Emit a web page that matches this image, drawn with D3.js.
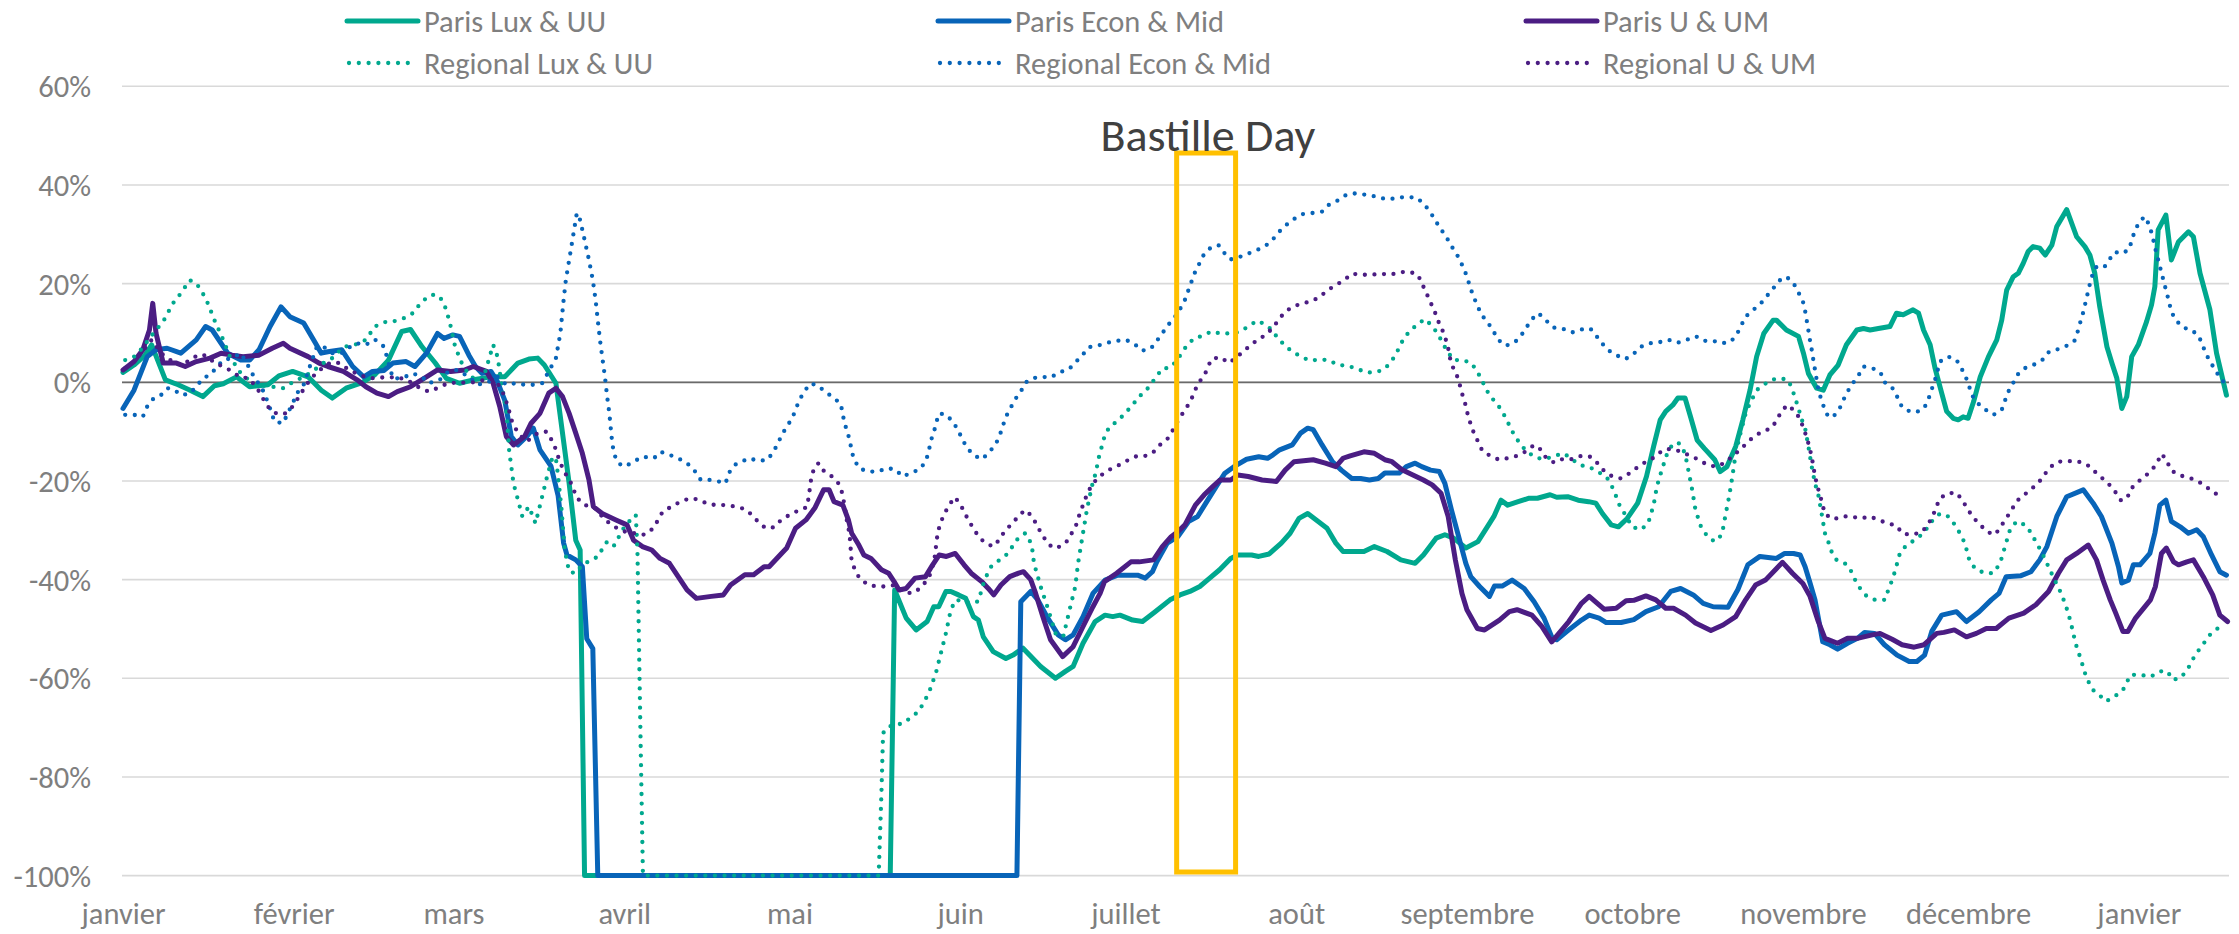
<!DOCTYPE html>
<html><head><meta charset="utf-8">
<script src="https://cdn.jsdelivr.net/npm/d3@7"></script>
<style>
html,body{margin:0;padding:0;background:#fff;}
svg{display:block;font-family:Carlito, Calibri, Lato, sans-serif;}
</style></head><body>
<svg id="chart" width="2239" height="934"></svg>
<script>
// ---------- data (x = days since 1 Jan 2020, y = % change) ----------
const monthLabels = ["janvier","février","mars","avril","mai","juin","juillet","août","septembre","octobre","novembre","décembre","janvier"];
const yTicks = [60,40,20,0,-20,-40,-60,-80,-100];
const seriesNames = ["Paris Lux & UU","Paris Econ & Mid","Paris U & UM","Regional Lux & UU","Regional Econ & Mid","Regional U & UM"];
const annotationText = "Bastille Day";
const annotationDays = [191.3, 202];

const parisLux = [[0,2],[2,3.5],[4,5.5],[5.2,7.6],[7.7,0.5],[10,-0.5],[12,-1.5],[14.5,-2.9],[16.6,-0.7],[18.2,-0.3],[20.6,1.1],[23,-0.9],[26.3,-0.5],[28.3,1.3],[30.8,2.2],[33.6,1.1],[36,-1.6],[38,-3.2],[40.5,-1.2],[43.3,-0.1],[45.7,1.5],[48.2,4.5],[50.6,10.3],[52.2,10.7],[54.3,7.2],[56.7,3.9],[58.7,0.8],[61.1,-0.2],[63.6,0.5],[66.8,1.1],[69.3,1.1],[71.7,3.9],[73.7,4.7],[75.3,4.9],[76.5,3.5],[78.6,-0.2],[80.2,-13.7],[81,-20.5],[82.2,-32],[83,-34],[83.8,-100],[139.3,-100],[140.1,-42.1],[142.2,-47.8],[144,-50.2],[146,-48.5],[147.2,-45.5],[148.1,-45.5],[149.4,-42.4],[150.3,-42.4],[151.7,-43.1],[153,-43.8],[154.4,-47.5],[155.3,-48.2],[156.2,-51.6],[158,-54.6],[160.3,-56],[161.6,-55.3],[163.4,-53.9],[165.2,-56],[166.6,-57.6],[169.3,-60],[171.1,-58.6],[172.5,-57.6],[174.3,-52.9],[176.5,-48.5],[178.3,-47.2],[179.7,-47.5],[181,-47.2],[183.3,-48.2],[185.1,-48.5],[187.4,-46.5],[190.1,-44.1],[191.9,-43.1],[193.7,-42.4],[195.5,-41.4],[197.3,-39.7],[199.1,-38],[201.1,-35.7],[202.4,-35],[204.9,-35],[206.2,-35.3],[208.1,-34.8],[210.3,-32.6],[211.9,-30.6],[213.5,-27.6],[215.1,-26.6],[217,-28.2],[218.6,-29.6],[220.2,-32.6],[221.5,-34.3],[223.4,-34.3],[225.3,-34.3],[227.2,-33.3],[229.5,-34.3],[232,-36],[234.6,-36.7],[236.1,-35],[238.4,-31.6],[240,-30.9],[241.6,-31.6],[243.8,-33.6],[246,-32.3],[247.7,-29.3],[248.9,-27.2],[250.2,-23.9],[251.4,-24.9],[253.3,-24.2],[255.3,-23.5],[256.8,-23.5],[259.1,-22.8],[260.3,-23.3],[262.3,-23.2],[264.2,-23.9],[266.1,-24.2],[267.4,-24.5],[268.6,-26.6],[270.2,-28.9],[271.5,-29.3],[273.1,-27.6],[275,-24.5],[276.6,-19.1],[277.9,-13],[279.1,-7.6],[280.1,-5.9],[281.4,-4.6],[282.3,-3.2],[283.6,-3.2],[284.6,-7],[285.8,-11.7],[287.1,-13.4],[289,-15.7],[290,-18.1],[291.2,-17.1],[292.8,-13],[294.1,-7.6],[295.4,-1.6],[296.6,5.2],[297.9,9.9],[299.6,12.6],[300.2,12.6],[302,10.6],[304.2,9.3],[305.1,5.9],[306,1.8],[307.5,-1.2],[308.7,-1.6],[309.9,1.5],[311.4,3.5],[312.9,7.6],[314.8,10.6],[316,10.9],[317.2,10.6],[318.7,10.9],[320.8,11.3],[322,14],[323.2,13.7],[325,14.7],[326,14],[326.9,10.6],[328.1,7.6],[329,2.8],[330.2,-2.2],[331.1,-5.9],[332.3,-7.3],[333.2,-7.6],[334.1,-7],[335,-7.3],[336,-3.9],[337.2,1.1],[338.7,5.2],[340.2,8.6],[341.1,12.6],[342,18.7],[343.2,21.4],[344.1,22.1],[345,24.1],[345.9,26.5],[346.8,27.5],[348,27.2],[349,25.8],[350.2,27.8],[351.1,31.6],[352.9,35],[354.7,29.5],[356.2,27.5],[357.1,25.8],[358,22.1],[358.9,15.3],[360.2,7.2],[361.1,3.9],[362,0.8],[362.9,-5.3],[363.8,-2.9],[364.7,5.2],[365.9,7.6],[367.4,12.3],[368.3,15.7],[368.9,19.4],[369.5,30.9],[370.9,33.9],[371.9,24.8],[373.2,28.5],[375,30.5],[375.9,29.5],[377.1,22.1],[378.9,14.7],[380.1,5.9],[381.9,-2.6]];

const parisEcon = [[0,-5.3],[2,-1.6],[4.4,5.2],[6,6.6],[8,6.9],[10.5,5.9],[13.3,8.6],[15,11.3],[16.2,10.6],[19,5.9],[21.4,4.5],[23,4.5],[24.7,6.6],[26.7,11.3],[28.7,15.3],[30.3,13.3],[32.8,12],[34.8,8.2],[36,5.9],[37.2,6.2],[39.7,6.6],[41.7,3.2],[43.7,1.1],[45.3,2.2],[47.4,2.4],[49,3.9],[51.4,4.2],[53,3.2],[55.1,5.9],[57.1,9.9],[58.3,8.9],[59.9,9.6],[61.1,9.3],[62.8,5.5],[64,3.2],[65.2,1.8],[66.8,2.2],[68,0.1],[69.3,-3.6],[70.5,-11],[71.7,-12.7],[73.3,-11],[74.5,-9.3],[75.7,-13.7],[77.7,-17],[79,-23],[80,-32.6],[80.6,-35],[82.2,-36],[83.4,-37.4],[84.2,-52],[85.3,-54],[86.2,-100],[162.3,-100],[163,-44.5],[164.8,-42.4],[166.1,-44.1],[167.9,-47.8],[169.8,-51.2],[171.1,-52.2],[172.5,-51.2],[174.3,-47.5],[176.1,-42.8],[178.3,-40.1],[180.6,-39.1],[184.2,-39.1],[185.6,-39.7],[186.9,-38.4],[187.7,-36.4],[189.6,-32.6],[191.5,-31.3],[193.5,-28.2],[195.1,-27.2],[196.6,-24.5],[198.5,-21.1],[200,-18.5],[201.7,-17.1],[204,-15.6],[206.2,-15.1],[207.8,-15.4],[208.8,-14.7],[210,-13.7],[212.3,-12.7],[213.8,-10.3],[215.1,-9.3],[216.1,-9.6],[217.7,-12.7],[219.6,-16.1],[221.2,-17.8],[223.1,-19.5],[224.7,-19.5],[226.3,-19.8],[227.9,-19.5],[229.1,-18.4],[231.7,-18.4],[233,-17.1],[234.6,-16.4],[235.8,-17.1],[237.4,-17.8],[239,-18.1],[240,-20.5],[241.2,-25.9],[242.5,-31.3],[243.8,-36.7],[244.7,-39.4],[246.3,-41.4],[248.1,-43.4],[249,-41.3],[250.4,-41.3],[252.2,-40.1],[254.4,-41.8],[256.2,-44.5],[258,-47.8],[259.4,-51.6],[260.3,-52.2],[262.5,-50.2],[264.8,-48.2],[266.2,-47.2],[268,-47.8],[269.3,-48.7],[272,-48.7],[274.3,-48.1],[276.5,-46.5],[278.8,-45.5],[281,-42.4],[282.8,-41.8],[285.1,-43.1],[286.9,-44.8],[288.7,-45.5],[291.4,-45.6],[293.2,-42],[295,-37],[297.2,-35.3],[300.2,-35.7],[301.7,-34.7],[303.3,-34.7],[304.5,-35],[305.4,-37.4],[306.3,-40.7],[307.2,-44.1],[308.6,-52.6],[309.9,-53.2],[311.3,-54.1],[313.1,-52.9],[314.9,-51.9],[316.2,-50.7],[318,-50.9],[319.8,-53.2],[322.1,-55.3],[324.3,-56.6],[325.7,-56.6],[327.1,-55.3],[328.4,-50.5],[330.2,-47.2],[332.9,-46.5],[334.7,-48.5],[337,-46.5],[339.2,-44.1],[340.6,-42.8],[341.9,-39.4],[344.6,-39.2],[346.4,-38.4],[348,-36],[349.3,-33.3],[351.1,-27.2],[352.9,-23.2],[355.9,-21.8],[357.7,-24.5],[359.2,-27.2],[361.1,-32.6],[362.3,-37.4],[362.9,-40.7],[364.1,-40.1],[365,-37],[366.2,-37],[368,-34.7],[368.9,-30.6],[369.8,-24.9],[370.9,-23.9],[371.9,-28.2],[373.5,-29.3],[375,-30.6],[376.5,-29.9],[377.7,-31.3],[379.2,-35],[380.7,-38.4],[381.9,-39.1]];

const parisU = [[0,2.5],[2,4.2],[3.6,6.6],[4.8,10.6],[5.4,16],[6,9.9],[7.3,3.9],[9.7,3.9],[11.3,3.2],[13.3,4.2],[15.8,4.9],[17.8,5.9],[19.8,5.5],[21.8,5.2],[24.7,5.5],[27.1,6.9],[29.1,7.9],[30.3,6.9],[33.6,5.2],[35.6,3.9],[37.2,3.2],[40,2.2],[42.5,0.5],[44.1,-0.9],[46.1,-2.2],[48.2,-2.9],[49.8,-1.9],[52.2,-0.9],[55.1,1.1],[57.1,2.5],[59.5,2.2],[62,2.5],[63.6,3.2],[66,2.2],[67.2,-0.2],[68.4,-4.9],[69.6,-11],[70.9,-12.7],[72.9,-11],[74.1,-8.3],[75.7,-6.3],[77.3,-2.2],[78.6,-1.2],[79.8,-2.9],[81,-6.3],[82.2,-10.3],[83.4,-14.4],[84.6,-19.8],[85.4,-25.2],[87,-26.6],[89.5,-27.9],[91.5,-28.9],[92.7,-32],[94.3,-33.3],[96,-34],[97.5,-35.7],[99.2,-36.7],[100.8,-39.4],[102.4,-42.1],[104.1,-43.8],[106.8,-43.4],[109,-43.1],[110.3,-41.1],[112.9,-39],[114.5,-39],[116.4,-37.4],[117.3,-37.4],[119.3,-35],[120.5,-33.6],[122.1,-29.6],[124,-27.9],[125.6,-25.5],[127.2,-21.8],[128.2,-21.8],[129.1,-24.2],[130.7,-24.9],[131.7,-27.9],[132.3,-30.6],[133.6,-33],[134.5,-35],[135.8,-35.7],[137.7,-38],[139,-38.7],[140,-40.4],[140.9,-42.1],[142.2,-41.8],[143.8,-39.7],[145.7,-39.4],[147,-37],[148.2,-35],[149.5,-35.3],[151.1,-34.7],[152.7,-37],[154,-38.7],[155.9,-40.4],[157.1,-41.8],[158.1,-43.1],[159.4,-41.1],[161,-39.4],[162.6,-38.7],[163.5,-38.4],[164.8,-40],[165.7,-42.8],[167,-47.5],[168.4,-52.2],[170.6,-55.6],[172.5,-53.6],[174.3,-49.5],[176.1,-45.5],[177.4,-42.8],[178.2,-40.4],[180.4,-38.7],[183,-36.4],[184.5,-36.4],[187.1,-36],[188.7,-33.3],[190.3,-31.3],[191.5,-30.3],[192.8,-28.9],[194.7,-24.9],[196.3,-22.8],[197.9,-21.1],[199.2,-19.8],[201.1,-19.8],[202.4,-18.8],[204.3,-19.1],[206.8,-19.8],[209.4,-20.1],[211,-17.8],[212.6,-16.1],[216.1,-15.7],[218.3,-16.4],[220.2,-17.1],[221.5,-15.4],[222.8,-14.9],[225.3,-14.1],[227.2,-14.4],[229.1,-15.7],[230.4,-16.1],[232.3,-17.8],[234.2,-18.8],[236.1,-19.8],[237.7,-20.8],[239.3,-22.5],[240.6,-27.2],[241.9,-36],[243.1,-42.8],[244,-46.1],[245.9,-49.9],[247.2,-50.2],[249.9,-48.2],[251.7,-46.5],[253.1,-46.1],[255.8,-47.2],[257.6,-49.5],[259.4,-52.6],[262.5,-48.5],[264.8,-44.8],[266.2,-43.4],[268.9,-46],[271.1,-45.8],[272.9,-44.3],[274.3,-44.2],[276.5,-43.3],[278.3,-44.1],[280.1,-45.8],[281.5,-45.8],[283.7,-47.2],[285.5,-48.8],[288.3,-50.3],[290.5,-49.2],[292.8,-47.5],[294.6,-44.1],[296.4,-41.1],[298.2,-40.1],[300,-38],[301.3,-36.5],[303.1,-38.7],[305,-40.8],[306.3,-43.4],[307.7,-48.2],[309,-51.9],[311.3,-52.9],[313.1,-51.9],[314.9,-51.9],[317.6,-51.2],[319,-50.9],[321.2,-52.1],[323,-53.2],[325.2,-53.7],[327,-53.2],[329.3,-50.9],[330.6,-50.7],[332.5,-50.2],[334.7,-51.6],[336.5,-50.9],[338.3,-49.9],[340.1,-49.9],[342.4,-47.8],[345.1,-46.8],[347.3,-45.1],[349.6,-42.4],[351.4,-38.7],[352.9,-36],[354.7,-34.7],[356.8,-33],[358.3,-36],[359.5,-40.1],[360.8,-44.1],[361.8,-46.8],[363.1,-50.5],[364,-50.5],[365.4,-47.8],[368.1,-44.1],[369,-41.4],[370.1,-34.7],[371,-33.6],[372.3,-36.4],[373.2,-37],[374.7,-36.4],[375.9,-36],[377.7,-39.4],[379.4,-43.1],[380.7,-47.2],[382.1,-48.5]];

const regionalLux = [[0.4,4.5],[2,5.2],[3.6,7],[4.8,8.9],[6,10.6],[7.3,12.3],[8.1,14],[9.3,16.4],[10.5,18],[12.1,20.7],[13.3,20.1],[14.5,18],[15.4,16],[16.6,12.6],[18.2,8.6],[19.4,5.2],[21.4,1.8],[23.9,-0.5],[26.3,-0.8],[29.1,-1.2],[30.8,0],[32.8,1.1],[34.4,2.2],[36.4,3.9],[38,4.9],[40.1,7.2],[42.1,7.6],[44.1,8.6],[45.7,11.3],[47.8,12.3],[49,12.3],[51,13],[52.6,14],[54.3,16.4],[55.9,17.7],[57.1,17.7],[57.9,16.7],[58.7,14.7],[59.5,11.3],[60.3,7.2],[61.5,3.9],[62.8,1.5],[64.4,0.2],[65.6,1.5],[66.4,4.5],[67.2,7.6],[68,5.2],[68.8,-0.9],[69.6,-5.6],[70.1,-13.7],[70.9,-20.5],[71.7,-23.8],[72.5,-27.2],[73.7,-25.2],[74.9,-28.6],[76.1,-23.2],[77,-19.1],[78,-15.1],[78.6,-15.5],[79,-19.1],[79.6,-25.5],[80.2,-34],[81,-38.4],[82.2,-38.7],[83.4,-37],[85.1,-36],[86.3,-35.3],[87.1,-33.6],[87.9,-32.3],[89.1,-33.2],[89.9,-31.6],[90.7,-29.9],[91.9,-28.2],[93.1,-26.9],[93.4,-34],[93.6,-47.5],[94,-74.5],[94.4,-100],[137.2,-100],[137.7,-83.3],[138,-71.1],[139,-69.8],[141.7,-69.1],[144.5,-66.7],[146.3,-63],[147.6,-58.9],[148.5,-54.9],[149.4,-50.9],[150.3,-46.1],[151.2,-44.1],[152.6,-44.4],[153.9,-44.8],[155.3,-44.4],[156.4,-40.1],[157.6,-37.4],[158.7,-36.4],[160.7,-34.7],[162.2,-32],[163.8,-30.6],[164.7,-32.3],[165.1,-34],[165.4,-36.7],[166.6,-41.4],[168,-46.1],[169.3,-50.9],[170.7,-51.6],[172,-45.5],[172.9,-41.4],[173.4,-36.7],[174.4,-29.9],[175,-25.9],[175.9,-21.1],[176.6,-18.4],[177.2,-15.1],[178.2,-11],[179.1,-9],[180.4,-8],[181.7,-6.6],[183.3,-4.6],[184.5,-2.9],[185.8,-1.6],[187.4,0.8],[188.7,2.8],[190,2.9],[191.2,4.2],[192.8,6.9],[194.4,8.9],[196,9.4],[197.6,10.3],[199.2,9.9],[201.1,9.9],[202.7,10.2],[204.3,11.3],[205.9,12.5],[207.2,11.8],[208.5,10.7],[209.7,8.9],[211,7.4],[212.3,6.2],[213.9,5.2],[215.4,4.4],[217.4,4.6],[219,4.5],[220.5,3.5],[222.1,3.4],[224,2.8],[225.6,2],[227.2,2],[228.8,2.5],[230.1,3.9],[231,5.5],[231.8,7.2],[232.6,9.1],[233.9,10.6],[235.2,12],[236.5,12.8],[237.7,11.3],[238.7,9.9],[239.6,7.9],[240.6,6],[241.6,4.5],[243.1,4.5],[244.7,4],[245.7,2.5],[246.7,0.5],[247.3,-1],[248.2,-2.8],[249.5,-4.4],[250.5,-6.1],[251.3,-7.8],[252.1,-9.7],[253,-11.4],[254,-13],[255.3,-14.4],[256.8,-15.4],[258.4,-15.5],[260,-14.9],[261.6,-14.4],[263.2,-15.7],[264.5,-16.8],[266.1,-17.1],[267.7,-18.1],[269.3,-19.1],[270.2,-20.8],[270.9,-22.5],[271.5,-24.5],[272.4,-26.2],[274,-29.3],[275.6,-29.9],[276.9,-28.6],[277.9,-24.9],[278.5,-21.1],[279.1,-18.8],[279.6,-17.1],[280.1,-15.1],[281.4,-12.4],[282.6,-12.4],[283.6,-14.4],[284.2,-17.8],[284.9,-21.8],[285.5,-25.9],[286.5,-29.3],[287.7,-31.3],[289,-32.3],[290.3,-30.9],[290.9,-27.2],[291.6,-23.2],[292.2,-19.1],[292.8,-14.4],[293.8,-9.7],[294.7,-5.9],[295.7,-3.6],[296.6,-1.6],[297.9,-0.5],[299.3,0.5],[300.8,0.8],[302.3,0.5],[303,-1.2],[303.6,-3.2],[304.2,-5.3],[304.8,-7.6],[305.4,-9.3],[306,-13],[306.6,-17.1],[307.2,-20.5],[307.8,-22.8],[308.4,-26.6],[309,-30.6],[309.6,-32.3],[310.2,-34.3],[311.1,-36],[312.6,-36.7],[313.5,-37.7],[314.5,-40.1],[315.4,-41.8],[316.6,-43.4],[318.1,-44.1],[319.9,-44.1],[320.5,-42.1],[321.1,-40.4],[321.7,-38.4],[322.6,-34.7],[323.8,-33],[325.3,-32],[326.9,-30.6],[328.4,-28.2],[329.9,-26.6],[331.4,-27.2],[332.6,-28.9],[333.5,-30.6],[334.4,-32.6],[335.3,-36.4],[336.5,-38],[338.1,-38.7],[339.6,-38.7],[340.8,-36.7],[341.7,-33.3],[342.6,-29.9],[343.8,-28.2],[345.3,-28.9],[346.5,-30.6],[347.4,-32.6],[348.3,-34.3],[349.3,-36.7],[350.5,-39.6],[351.9,-42.8],[352.8,-45.5],[353.6,-48.5],[354.5,-52.9],[355.5,-56.3],[356.5,-60],[357.7,-62.4],[359.1,-63.7],[360,-64.7],[361.6,-63.7],[363.1,-62.4],[364.5,-59.3],[366.3,-59.3],[368.1,-59.7],[369.9,-58.6],[371.2,-58.6],[372.1,-60.3],[373.5,-60],[374.8,-58.3],[376.2,-55.3],[377.6,-53.2],[378.9,-51.2],[380.3,-49.9],[381.6,-48.9]];

const regionalEcon = [[0.4,-6.6],[2,-6.6],[3.6,-7],[4.4,-4.9],[5.6,-3.2],[6.9,-2.6],[8.1,-1.2],[9.3,-1.5],[10.5,-2.6],[12.1,-2.3],[13.3,-0.9],[14.5,0.8],[15.8,1.5],[17,3],[18.2,4.5],[19.8,4.9],[21.4,5.9],[23.1,2.6],[23.9,0.8],[25.1,-0.9],[25.9,-2.9],[26.7,-5.3],[27.5,-8],[29.1,-8.3],[29.9,-6.3],[30.8,-4.3],[31.6,-2.2],[32.8,-0.5],[33.6,2.2],[35.2,7.2],[36.4,7.2],[38,5.9],[39.7,5.9],[40.9,6.9],[41.7,7.6],[42.9,7.9],[44.1,7.6],[45.7,8.7],[47.4,7.2],[49,0.8],[50.6,0.8],[52.6,1.8],[54.3,1.1],[55.5,-0.2],[57.5,0.5],[59.1,2.2],[60.7,2.5],[62.8,1.1],[64.4,-0.5],[66.4,0.1],[68,1.1],[69.6,-0.5],[71.3,-0.2],[72.9,-0.5],[74.5,-0.5],[76.1,-0.2],[77.3,2.2],[78.6,4.9],[79.4,9.9],[80,16.7],[80.4,20.7],[81.2,26.1],[81.8,30.2],[82.4,34.3],[83,32.9],[83.8,28.9],[84.6,24.8],[85.3,20.7],[85.8,16.7],[86.2,12.6],[86.6,8.6],[87,5.2],[87.5,1.1],[87.9,-2.9],[88.3,-6.3],[88.7,-11],[89.1,-14.4],[89.9,-16.4],[91.1,-17.1],[92.7,-16.1],[94.3,-15.1],[96.4,-15.4],[97.6,-14.1],[99.2,-14.7],[100.8,-15.4],[102.4,-16.4],[103.7,-17.8],[104.9,-19.8],[106.5,-19.8],[108.1,-20.1],[109.4,-20.5],[110,-18.4],[111,-16.8],[112.2,-16.1],[113.8,-15.4],[115.1,-15.9],[116.9,-15.8],[118,-14.3],[118.9,-12.4],[119.6,-10.7],[120.5,-9],[121.5,-7.3],[122.1,-5.6],[122.8,-3.6],[123.7,-1.9],[124.7,-0.3],[125.9,-0.5],[127.3,-1.7],[128.8,-3],[130.3,-4.3],[131,-8.3],[131.5,-10],[132,-12],[132.3,-14.1],[132.8,-15.7],[133.6,-17.4],[135.2,-18.1],[137.1,-18.1],[138.7,-17.4],[140.3,-17.7],[141.5,-19.1],[143.1,-18.4],[144.7,-17.6],[145.7,-16.1],[146.3,-14.1],[146.6,-12],[147.2,-10.3],[147.6,-8.3],[148.2,-6.3],[149.5,-6.6],[150.8,-8.2],[151.7,-9.9],[152.4,-11.6],[153.3,-13.4],[154.6,-14.9],[156,-15.6],[157.3,-14.1],[158.4,-12.7],[159.2,-10.7],[159.7,-9],[160.3,-7],[161.1,-5.3],[162,-3.4],[163,-1.9],[163.8,-0.1],[165.1,0.8],[166.7,1.1],[168.5,1],[169.9,2],[171.7,2.6],[172.9,4],[174.2,5.5],[175.3,7.1],[176.9,7.4],[178.7,8],[180.4,8.4],[182.1,8.6],[183.7,7.7],[185,6.4],[186.6,6.8],[187.7,8.4],[188.8,10.1],[189.9,11.8],[190.9,13.1],[191.9,14.8],[192.8,16.7],[194,20.4],[194.6,22.2],[195.4,24],[196.2,25.8],[197.4,27.2],[198.9,27.8],[199.8,26.4],[201.1,24.9],[202.7,25.4],[204.3,26.1],[205.9,26.8],[207.5,27.7],[208.8,29],[209.9,30.5],[211.2,31.9],[212.6,33.1],[214.2,34.1],[215.9,34.3],[217.7,34.6],[218.8,35.9],[220.2,36.6],[221.7,37.8],[223.4,38.3],[225.1,38.1],[226.8,37.8],[228.5,37.3],[230,37.1],[231.7,37.5],[233.3,37.5],[234.7,37.5],[236.1,36.3],[237.2,34.7],[238.2,33],[239.1,31.2],[240.2,29.7],[240.9,28],[241.9,26.5],[242.7,24.8],[243.5,22.9],[244.1,21.1],[244.6,19.2],[245.2,17.4],[245.9,15.5],[246.7,13.6],[247.8,12.1],[248.8,10.4],[249.6,8.7],[251,7.4],[252.6,8],[253.8,9.4],[254.8,11.1],[255.8,12.8],[257,14],[258.4,12.5],[259.7,11.1],[261.3,10.9],[263.1,10.1],[264.8,10.7],[266.4,10.9],[267.5,9.4],[268.6,7.8],[269.8,6.4],[271.3,5.4],[272.8,4.7],[274.4,5.9],[275.6,7.2],[277.2,7.9],[278.9,8.1],[280.6,8.6],[282.2,8],[283.9,8.6],[285.6,9.3],[287,8.4],[288.7,8.4],[290.3,7.9],[291.9,8.2],[293,9.7],[293.8,11.5],[294.6,13.3],[295.8,14.5],[297.3,15.9],[298.4,17.4],[299.6,19],[300.7,20.6],[302,21.4],[303.3,20.1],[304.2,18.2],[305,16.4],[305.4,14.5],[305.7,12.5],[306,10.5],[306.3,8.4],[306.6,6.6],[306.9,4.5],[307.2,2.5],[307.5,0.5],[307.8,-1.4],[308.3,-3.4],[308.9,-5.3],[309.6,-7],[310.5,-7],[311.6,-5.5],[312.3,-3.7],[313.1,-1.9],[314,-0.3],[315.1,1.4],[316,3.2],[317.7,2.8],[319.1,2],[319.7,0.1],[321.1,-0.9],[322,-2.6],[322.6,-4.4],[323.8,-5.7],[325.5,-6.1],[327,-5.3],[327.8,-3.4],[328.4,-1.4],[329,0.5],[329.9,4.2],[331.4,5.2],[332.9,4.5],[333.8,2.8],[334.6,1],[335.2,-0.9],[335.8,-2.8],[336.8,-4.3],[338.2,-5.6],[339.6,-6.6],[341.1,-5.6],[341.7,-3.7],[342.3,-1.9],[343.2,-0.1],[344.1,1.7],[345.5,3],[347,3.6],[348.7,4.7],[349.7,6.2],[351.3,6.7],[352.9,7.4],[354.3,8.4],[354.9,10.3],[355.4,12.3],[355.9,14.2],[356.3,16.1],[356.7,18],[357.1,19.9],[357.6,21.9],[358.3,23.4],[359.7,23.3],[360.6,24.8],[361.6,26.4],[363,26.1],[364.3,27],[364.7,28.9],[365.3,30.7],[366.1,32.6],[367.1,33.6],[367.9,31.8],[368.4,29.9],[368.8,28],[369.2,26],[369.7,24.1],[370.1,22.1],[370.6,20.2],[371,18.2],[371.5,16.4],[371.8,14.5],[372.7,12.6],[374,11.1],[375.6,10.6],[376.9,9.3],[377.6,7.4],[378.3,5.5],[379.1,3.9],[380,2.2],[381,0.5],[382,-0.5]];

const regionalU = [[0.4,2.8],[1.6,3.8],[2.8,5.2],[4,6.9],[5.2,8.6],[6.9,5.9],[8.1,4.9],[9.3,3.9],[10.9,3.5],[12.5,4.9],[14.2,5.7],[15.4,5.2],[16.6,3.9],[18.2,3.2],[19.8,2.2],[21.4,0.9],[22.6,0.9],[23.9,-0.5],[24.9,-2.2],[25.7,-3.9],[26.7,-5.5],[28.1,-6.5],[29.5,-6.3],[30.8,-4.9],[31.8,-3.2],[32.8,-1.4],[34,0.6],[35.6,2.4],[37.7,4],[39.3,3.9],[40.9,2.6],[42.9,1.5],[44.9,0.8],[47.4,1],[49.4,1],[51.4,0.6],[53.5,-0.9],[55.5,-1.9],[57.5,-1],[59.1,-0.1],[61.1,-0.1],[63.6,0],[66,0.6],[67.6,0.5],[68.8,-1.6],[69.9,-4.9],[70.5,-7.6],[71.7,-10.3],[73.3,-12],[75.3,-10.3],[76.9,-10],[78.2,-12.4],[79.4,-16.4],[80.6,-19.1],[81.7,-21.1],[82.2,-23.2],[83.8,-24.9],[85.4,-25.2],[87,-27.2],[88.6,-28.9],[90.3,-29.9],[91.9,-30.6],[93.1,-30.6],[94.7,-30.9],[96.3,-29.6],[98,-26.2],[99.6,-25.2],[101.2,-24.2],[103,-23.5],[104.6,-23.8],[106.2,-24.7],[107.8,-24.9],[109.4,-24.9],[111.2,-25.2],[112.9,-25.7],[114.2,-26.9],[115.4,-28.4],[116.7,-29.6],[118.2,-29.4],[119.6,-27.8],[121,-26.9],[122.6,-26],[124.2,-25.3],[124.5,-23.2],[125,-19.1],[125.6,-17.1],[126.3,-16.4],[127.2,-17.9],[128.6,-19],[129.9,-20.5],[130.5,-22.2],[131,-24.9],[131.5,-28.6],[131.9,-30.6],[132.3,-36.4],[132.9,-38],[133.7,-39.7],[135.3,-41.1],[136.9,-41.4],[138.7,-41.4],[140.1,-41.1],[141.5,-42.4],[143.3,-42.8],[144.7,-41.8],[146.3,-39.7],[146.8,-38],[147.3,-36.1],[147.9,-30.6],[148.4,-28.6],[149.1,-26.7],[150,-24.9],[151,-23.3],[151.9,-24.5],[152.7,-26.2],[153.5,-28],[154.5,-29.8],[155.4,-31.4],[156.6,-32.6],[158,-33.3],[159.2,-31.8],[160.1,-30.1],[161.4,-28.7],[162.6,-27.1],[163.8,-25.9],[165,-27.1],[165.9,-28.9],[166.7,-30.6],[167.7,-32.3],[168.8,-33.6],[170.2,-33.3],[171.5,-32.1],[172.4,-30.3],[173.2,-28.6],[173.7,-26.6],[174.3,-24.9],[175,-22.8],[175.8,-21],[176.9,-19.5],[178.2,-18.3],[179.6,-17.4],[181.2,-16.6],[182.6,-15.7],[184.2,-14.9],[185.9,-14.9],[187.4,-13.9],[188.5,-12.4],[189.9,-11.2],[190.8,-9.3],[191.7,-7.5],[192.8,-5.6],[193.8,-3.9],[194.5,-2],[195.2,-0.2],[196.3,1.3],[197.6,4.7],[199.2,5.1],[200.8,3.9],[202.1,5],[204.6,7.4],[206.1,8.7],[207.5,9.6],[208.8,11.1],[209.9,12.8],[211,14.3],[212.4,15.3],[214,16],[215.8,16.4],[217.4,17.4],[218.6,18.6],[220.2,19.7],[221.7,20.7],[223.1,22],[224.9,21.8],[226.6,21.8],[228.4,22],[230.1,21.8],[231.8,22.3],[233.6,22.4],[235.1,21.8],[235.8,20.1],[236.6,18.2],[237.3,16.4],[238.1,14.5],[238.7,12.6],[239.5,10.7],[240.1,8.9],[240.6,6.9],[240.9,5],[241.4,3.2],[242.2,1.3],[242.7,-0.5],[243.2,-2.6],[243.7,-4.4],[244.1,-6.3],[244.6,-8.2],[245.2,-10.1],[246,-12],[246.8,-13.9],[248.2,-14.9],[249.8,-15.7],[251.4,-15.4],[253.2,-14.9],[254.9,-13.9],[256.2,-12.7],[257.5,-13.7],[258.4,-15.4],[259.9,-16.3],[261.5,-15.5],[263.2,-15.6],[264.8,-14.9],[266.4,-15.1],[267.7,-16.4],[269,-18.1],[270.4,-19.1],[272,-19.5],[273.6,-18.4],[275,-17.2],[276.5,-16.1],[278.1,-15.2],[279.6,-13.7],[281.2,-13.5],[283,-14.1],[284.5,-14.9],[286.1,-15.7],[287.7,-16.8],[289.3,-17.1],[290.9,-16.3],[292.3,-14.9],[293.7,-13.6],[294.9,-12.2],[296.1,-11],[297.6,-10],[299.3,-9.3],[300.2,-7.8],[301.1,-5.9],[302.2,-4.6],[303.6,-5.9],[304.5,-7.5],[305.1,-9.3],[305.7,-11.2],[306.2,-13.2],[306.6,-15.1],[306.9,-17.1],[307.2,-19],[307.6,-21],[308.1,-22.8],[309,-26.7],[310.5,-27.8],[312.2,-27.2],[313.7,-27.2],[315.5,-27.6],[317.2,-27.2],[318.9,-28],[320.5,-28.6],[322,-29.1],[323.1,-30.7],[324.7,-30.9],[326.6,-30.4],[327.5,-29.1],[328.5,-27.4],[329.2,-25.3],[329.9,-23.5],[331.3,-22.5],[332.9,-22.4],[334,-24],[334.9,-25.7],[335.9,-27.4],[337.2,-28.9],[338.4,-30.3],[339.9,-30.9],[340.9,-29.3],[341.9,-27.6],[342.9,-25.9],[343.7,-24.2],[345,-23],[346.4,-21.7],[347.7,-20.5],[348.8,-18.8],[349.9,-17.2],[351.3,-16.1],[353.1,-16],[354.8,-16],[356.5,-16.6],[357.9,-18],[359.2,-19.3],[360.5,-20.6],[361.7,-22.2],[362.7,-23.9],[363.9,-23.5],[364.4,-21.8],[365.7,-20.3],[367.1,-19.1],[368.5,-17.6],[369.4,-16.1],[370.1,-14.5],[371,-15.7],[371.8,-17.8],[373.2,-18.8],[374.9,-19.3],[376.5,-19.9],[378,-21],[379.4,-22.2],[380.9,-23.2]];

// ---------- chart ----------
const svg = d3.select("#chart");
const FONT_SMALL = 30.5;
const t0 = Date.UTC(2020,0,1);
const toDate = d => new Date(t0 + d*864e5);

const x = d3.scaleUtc().domain([new Date(t0), new Date(Date.UTC(2021,0,17))]).range([123, 2227]);
const y = d3.scaleLinear().domain([-100, 60]).range([875.6, 86.3]);
const plotL = 122, plotR = 2229;

// gridlines
svg.append("g").selectAll("line").data(yTicks).join("line")
  .attr("x1", plotL).attr("x2", plotR)
  .attr("y1", d => y(d)).attr("y2", d => y(d))
  .attr("stroke", "#d9d9d9").attr("stroke-width", 1.6);

// y axis labels
const yAxis = d3.axisLeft(y).tickValues(yTicks).tickSize(0).tickPadding(0).tickFormat(d => d + "%");
const yg = svg.append("g").attr("transform", "translate(91,0)").call(yAxis);
yg.select(".domain").remove();
yg.selectAll("text").attr("font-size", FONT_SMALL).attr("fill", "#7f7f7f")
  .attr("font-family", "Carlito, Calibri, Lato, sans-serif").attr("text-anchor","end").attr("dy","0.35em");

// zero axis line
svg.append("line").attr("x1", plotL).attr("x2", plotR).attr("y1", y(0)).attr("y2", y(0))
  .attr("stroke", "#6a6a6a").attr("stroke-width", 1.7);

// x axis labels (month starts)
const months = d3.utcMonth.range(new Date(t0), new Date(Date.UTC(2021,0,2)));
const xAxis = d3.axisBottom(x).tickValues(months).tickSize(0).tickPadding(0)
  .tickFormat((d,i) => monthLabels[i]);
const xg = svg.append("g").attr("transform", "translate(0,903)").call(xAxis);
xg.select(".domain").remove();
xg.selectAll("text").attr("font-size", FONT_SMALL).attr("fill", "#7f7f7f")
  .attr("font-family", "Carlito, Calibri, Lato, sans-serif").attr("dy", "0.69em").attr("y", 0);

// series
const colors = ["#00a88e", "#0864b8", "#4b1d83", "#00a88e", "#0864b8", "#4b1d83"];
const dotted = [false, false, false, true, true, true];
const allSeries = [parisLux, parisEcon, parisU, regionalLux, regionalEcon, regionalU];
const line = d3.line().x(p => x(toDate(p[0]))).y(p => y(p[1])).curve(d3.curveLinear);

allSeries.forEach((s, i) => {
  const p = svg.append("path").datum(s).attr("d", line)
    .attr("fill", "none").attr("stroke", colors[i])
    .attr("stroke-linejoin", "round").attr("stroke-linecap", "round");
  if (dotted[i]) p.attr("stroke-width", 4.3).attr("stroke-dasharray", "0 9.6");
  else p.attr("stroke-width", 5);
});

// Bastille Day annotation
svg.append("rect")
  .attr("x", x(toDate(annotationDays[0]))).attr("y", 153)
  .attr("width", x(toDate(annotationDays[1])) - x(toDate(annotationDays[0])))
  .attr("height", 872 - 153)
  .attr("fill", "none").attr("stroke", "#ffc000").attr("stroke-width", 5);
svg.append("text").attr("x", 1208).attr("y", 151).attr("text-anchor", "middle")
  .attr("font-size", 46).attr("fill", "#404040").text(annotationText);

// legend
const legCols = [347, 938, 1526];
const legRows = [21, 63];
seriesNames.forEach((name, i) => {
  const cx = legCols[i % 3], cy = legRows[Math.floor(i / 3)];
  const g = svg.append("g");
  const l = g.append("line").attr("x1", cx + (dotted[i] ? 2 : 0)).attr("x2", cx + (dotted[i] ? 62 : 71))
    .attr("y1", cy).attr("y2", cy).attr("stroke", colors[i]).attr("stroke-linecap", "round");
  if (dotted[i]) l.attr("stroke-width", 4.3).attr("stroke-dasharray", "0 9.8");
  else l.attr("stroke-width", 5);
  g.append("text").attr("x", cx + 77).attr("y", cy).attr("dy", "0.35em")
    .attr("font-size", FONT_SMALL).attr("fill", "#7f7f7f").text(name);
});
</script>
</body></html>
